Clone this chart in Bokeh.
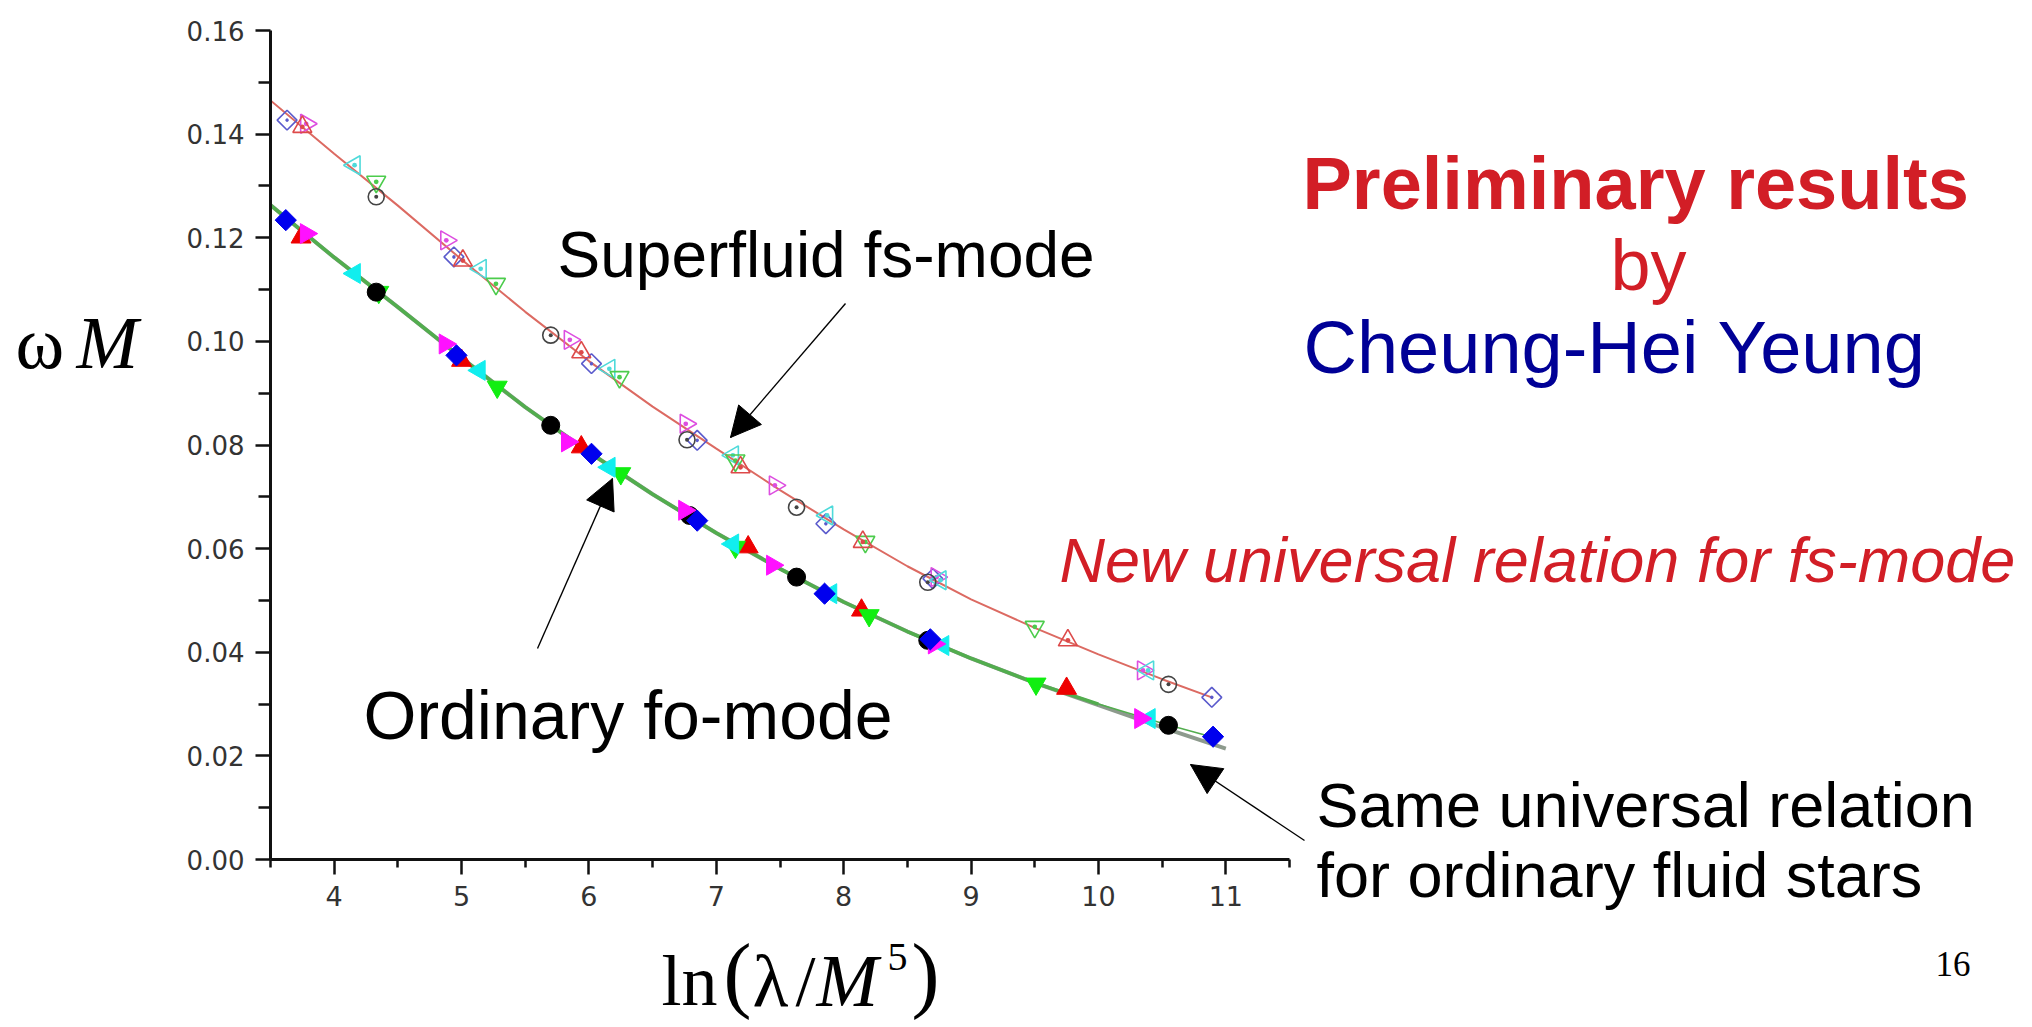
import math
from bokeh.plotting import figure
from bokeh.models import (Range1d, FixedTicker, NumeralTickFormatter,
                          Arrow, NormalHead)
from bokeh.core.properties import value
from bokeh.embed import file_html
from bokeh.resources import INLINE

# ---------------- data ----------------
# superfluid fs-mode, open symbols
sf_diamond_x = [3.63, 4.94, 6.02, 6.85, 7.86, 8.70, 10.89]
sf_diamond_y = [0.1427, 0.1163, 0.0957, 0.0809, 0.0648, 0.0542, 0.0313]
sf_right_x = [3.78, 4.88, 5.85, 6.76, 7.46, 8.73, 10.35]
sf_right_y = [0.1420, 0.1195, 0.1003, 0.0841, 0.0722, 0.0545, 0.0365]
sf_left_x = [4.16, 5.15, 6.16, 7.13, 7.87, 8.76, 10.39]
sf_left_y = [0.1340, 0.1140, 0.0947, 0.0780, 0.0664, 0.0539, 0.0365]
sf_down_x = [4.33, 5.27, 6.24, 7.15, 8.17, 9.50]
sf_down_y = [0.1308, 0.1111, 0.0931, 0.0770, 0.0613, 0.0449]
sf_circle_x = [4.33, 5.70, 6.77, 7.63, 8.66, 10.55]
sf_circle_y = [0.1279, 0.1012, 0.0810, 0.0680, 0.0535, 0.0338]
sf_up_x = [3.75, 5.01, 5.94, 7.19, 8.15, 9.76]
sf_up_y = [0.1414, 0.1156, 0.0979, 0.0757, 0.0613, 0.0423]

# ordinary fo-mode, filled symbols
of_diamond_x = [3.62, 4.96, 6.02, 6.85, 7.85, 8.68, 10.90]
of_diamond_y = [0.1234, 0.0973, 0.0783, 0.0654, 0.0513, 0.0425, 0.0237]
of_right_x = [3.78, 4.87, 5.83, 6.75, 7.44, 8.71, 10.33]
of_right_y = [0.1208, 0.0995, 0.0806, 0.0674, 0.0568, 0.0416, 0.0272]
of_left_x = [4.16, 5.14, 6.16, 7.13, 7.90, 8.78, 10.40]
of_left_y = [0.1131, 0.0944, 0.0757, 0.0609, 0.0513, 0.0413, 0.0272]
of_down_x = [4.35, 5.28, 6.25, 7.15, 8.20, 9.51]
of_down_y = [0.1095, 0.0912, 0.0745, 0.0603, 0.0471, 0.0339]
of_circle_x = [4.33, 5.70, 6.79, 7.63, 8.66, 10.55]
of_circle_y = [0.1095, 0.0838, 0.0664, 0.0545, 0.0423, 0.0259]
of_up_x = [3.74, 5.00, 5.94, 7.25, 8.14, 9.75]
of_up_y = [0.1201, 0.0963, 0.0796, 0.0603, 0.0481, 0.0330]

# fitted curves
sf_fit_x = [3.5, 4.0, 4.5, 5.0, 5.5, 6.0, 6.5, 7.0, 7.5, 8.0, 8.5, 9.0, 9.5, 10.0, 10.5, 10.9]
sf_fit_y = [0.1465, 0.1362, 0.1262, 0.1158, 0.1057, 0.0962, 0.0874, 0.0793, 0.0713,
            0.0637, 0.0566, 0.0502, 0.0447, 0.0396, 0.0348, 0.0312]
of_fit_x = [3.5, 4.0, 4.5, 5.0, 5.5, 6.0, 6.5, 7.0, 7.5, 8.0, 8.5, 9.0, 9.5, 10.0, 10.5, 10.9]
of_fit_y = [0.1263, 0.1162, 0.1066, 0.0968, 0.0873, 0.0786, 0.0705, 0.0630, 0.0561,
            0.0497, 0.0440, 0.0388, 0.0341, 0.0300, 0.0263, 0.0236]
gray_fit_x = [3.5, 4.0, 4.5, 5.0, 5.5, 6.0, 6.5, 7.0, 7.5, 8.0, 8.5, 9.0, 9.5, 10.0, 10.5, 11.0]
gray_fit_y = [0.1263, 0.1162, 0.1066, 0.0968, 0.0873, 0.0786, 0.0705, 0.0630, 0.0561,
              0.0497, 0.0440, 0.0388, 0.0341, 0.0298, 0.0255, 0.0214]

x_ticks = [4, 5, 6, 7, 8, 9, 10, 11]
x_minor = [3.5, 4.5, 5.5, 6.5, 7.5, 8.5, 9.5, 10.5, 11.5]
y_ticks = [0.0, 0.02, 0.04, 0.06, 0.08, 0.10, 0.12, 0.14, 0.16]
y_minor = [0.01, 0.03, 0.05, 0.07, 0.09, 0.11, 0.13, 0.15]

# ---------------- layout ----------------
W, H = 2032, 1027
AX_L, AX_R, AX_T, AX_B = 270, 1289, 30, 859      # pixel extent of the drawn axes
X0, XA1, Y0, YA1 = 3.5, 11.5, 0.0, 0.16          # data extent of the drawn axes
KX = (XA1 - X0) / (AX_R - AX_L)
KY = (YA1 - Y0) / (AX_B - AX_T)
# the frame reaches the right and top edges of the canvas; axes are bounded
X1 = X0 + (W - AX_L) * KX
Y1 = Y0 + AX_B * KY


def px2x(px):
    return X0 + (px - AX_L) * KX


def py2y(py):
    return Y0 + (AX_B - py) * KY


p = figure(width=W, height=H, output_backend="svg", toolbar_location=None,
           x_range=Range1d(X0, X1), y_range=Range1d(Y0, Y1),
           min_border_left=AX_L, min_border_right=0,
           min_border_top=0, min_border_bottom=H - AX_B,
           background_fill_color="white", border_fill_color="white",
           outline_line_color=None)
p.grid.visible = False

for ax in (p.xaxis[0], p.yaxis[0]):
    ax.axis_line_width = 3
    ax.axis_line_color = "#111111"
    ax.major_tick_line_width = 2.5
    ax.minor_tick_line_width = 2.5
    ax.major_tick_line_color = "#111111"
    ax.minor_tick_line_color = "#111111"
    ax.major_tick_in = 0
    ax.minor_tick_in = 0
    ax.major_tick_out = 15
    ax.major_label_text_font = "DejaVu Sans"
    ax.major_label_text_color = "#333333"
    ax.major_label_standoff = 11

p.xaxis.bounds = (X0, XA1)
p.yaxis.bounds = (Y0, YA1)
p.xaxis.ticker = FixedTicker(ticks=x_ticks, minor_ticks=x_minor)
p.yaxis.ticker = FixedTicker(ticks=y_ticks, minor_ticks=y_minor)
p.yaxis.formatter = NumeralTickFormatter(format="0.00")
p.xaxis.minor_tick_out = 8
p.yaxis.minor_tick_out = 12
p.xaxis.major_label_text_font_size = "27px"
p.yaxis.major_label_text_font_size = "26px"

# fit lines
p.line(gray_fit_x, gray_fit_y, line_color="#8d9a8d", line_width=4)
p.line(of_fit_x[:-2], of_fit_y[:-2], line_color="#52ad4e", line_width=3.5)
p.line(of_fit_x[-3:], of_fit_y[-3:], line_color="#52ad4e", line_width=1.5)
p.line(sf_fit_x, sf_fit_y, line_color="#dc6a62", line_width=2)

R = math.pi / 2
# open symbols (superfluid)
p.scatter(sf_diamond_x, sf_diamond_y, marker="square_dot", angle=math.pi / 4, size=14,
          fill_color=None, line_color="#5a5acc", line_width=1.6)
p.scatter(sf_right_x, sf_right_y, marker="triangle_dot", angle=-R, size=19,
          fill_color=None, line_color="#dd4ee0", line_width=1.6)
p.scatter(sf_left_x, sf_left_y, marker="triangle_dot", angle=R, size=19,
          fill_color=None, line_color="#4edada", line_width=1.6)
p.scatter(sf_down_x, sf_down_y, marker="triangle_dot", angle=math.pi, size=19,
          fill_color=None, line_color="#4ccc4c", line_width=1.6)
p.scatter(sf_up_x, sf_up_y, marker="triangle_dot", size=19,
          fill_color=None, line_color="#dd4a4a", line_width=1.6)
p.scatter(sf_circle_x, sf_circle_y, marker="circle_dot", size=16,
          fill_color=None, line_color="#444444", line_width=1.6)

# filled symbols (ordinary)
p.scatter(of_up_x, of_up_y, marker="triangle", size=20,
          fill_color="#ee0000", line_color="#ee0000")
p.scatter(of_down_x, of_down_y, marker="triangle", angle=math.pi, size=20,
          fill_color="#11ee11", line_color="#11ee11")
p.scatter(of_left_x, of_left_y, marker="triangle", angle=R, size=20,
          fill_color="#11eeee", line_color="#11eeee")
p.scatter(of_circle_x, of_circle_y, marker="circle", size=18,
          fill_color="#000000", line_color="#000000")
p.scatter(of_right_x, of_right_y, marker="triangle", angle=-R, size=20,
          fill_color="#ff11ff", line_color="#ff11ff")
p.scatter(of_diamond_x, of_diamond_y, marker="square", angle=math.pi / 4, size=15,
          fill_color="#0000ee", line_color="#0000ee")

# arrows: body as an unclipped segment, head as an Arrow annotation
arrows_px = [(845, 303, 730, 437), (537, 648, 612, 478), (1304, 840, 1190, 764)]
for (tx, ty, hx, hy) in arrows_px:
    p.segment(x0=[px2x(tx)], y0=[py2y(ty)], x1=[px2x(hx)], y1=[py2y(hy)],
              line_color="black", line_width=1.4, level="overlay")
    p.add_layout(Arrow(end=NormalHead(size=30, fill_color="black", line_color="black"),
                       x_start=px2x(tx), y_start=py2y(ty), x_end=px2x(hx), y_end=py2y(hy),
                       line_alpha=0))

SHIFT = 0.32  # em correction for how the text glyph places its baseline


def lab(text, px, py, size, font="Liberation Sans", color="black", style="normal"):
    p.text(x=[px2x(px)], y=[py2y(py - SHIFT * size)], text=[text], text_font=value(font),
           text_font_size=value(f"{size}px"), text_color=color,
           text_font_style=value(style), text_align="left",
           text_baseline="alphabetic", level="overlay")


RED = "#d21e26"
BLUE = "#000096"
lab("Superfluid fs-mode", 557, 275, 64)
lab("Ordinary fo-mode", 363, 736, 68)
lab("Preliminary results", 1302, 207, 74, color=RED, style="bold")
lab("by", 1610, 288, 72, color=RED)
lab("Cheung-Hei Yeung", 1303, 371, 74, color=BLUE)
lab("New universal relation for fs-mode", 1059, 580, 63, color=RED, style="italic")
lab("Same universal relation", 1316, 825, 63)
lab("for ordinary fluid stars", 1316, 895, 63)
lab("16", 1935, 975, 35, font="Liberation Serif")

# axis titles
lab("ω", 15, 366, 74, font="Liberation Serif")
lab("M", 76, 366, 74, font="Liberation Serif", style="italic")
lab("ln", 661, 1004, 72, font="Liberation Serif")
lab("(", 723, 1000, 84, font="Liberation Serif")
lab("λ", 752, 1004, 74, font="Liberation Serif")
lab("/", 795, 1004, 72, font="Liberation Serif")
lab("M", 816, 1004, 74, font="Liberation Serif", style="italic")
lab("5", 887, 969, 40, font="Liberation Serif")
lab(")", 911, 1000, 84, font="Liberation Serif")

open("out.html", "w").write(file_html(p, INLINE))
